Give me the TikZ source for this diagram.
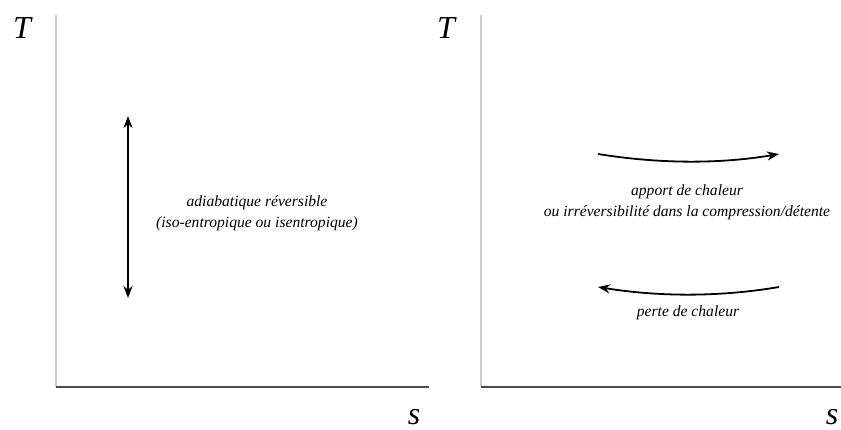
\documentclass[tikz,border=0pt]{standalone}
\usepackage{fontspec}
\setmainfont{Liberation Serif}
\usetikzlibrary{arrows.meta}

\begin{document}
\begin{tikzpicture}[x=0.5pt, y=-0.5pt]
\useasboundingbox (0,0) rectangle (841,429);
% left diagram
\draw[gray!40, line width=0.6pt] (56,15) -- (56,387);
\draw[black!70, line width=0.6pt] (56,387) -- (429,387);
\node[font=\itshape\fontsize{16}{16}\selectfont] (tl) at (22,28) {T};
\node[font=\itshape\fontsize{16}{16}\selectfont] (sl) at (414,417) {s};
\coordinate (adtop) at (128,116); \coordinate (adbot) at (128,298);
\draw[{Stealth[length=6pt,width=4.5pt]}-{Stealth[length=6pt,width=4.5pt]}, line width=0.9pt] (adtop) -- (adbot);
\node[font=\itshape\fontsize{7.8}{10.5}\selectfont, align=center] (adia) at (257,213) {adiabatique réversible\\(iso-entropique ou isentropique)};
% right diagram
\draw[gray!40, line width=0.6pt] (481,15) -- (481,387);
\draw[black!70, line width=0.6pt] (481,387) -- (841,387);
\node[font=\itshape\fontsize{16}{16}\selectfont] (tr) at (446,28) {T};
\node[font=\itshape\fontsize{16}{16}\selectfont] (sr) at (832,417) {s};
\coordinate (apA) at (598,154); \coordinate (apB) at (779,154);
\draw[-{Stealth[length=6pt,width=4.5pt]}, line width=0.9pt] (apA) .. controls (660,164) and (720,164) .. (apB);
\node[font=\itshape\fontsize{7.8}{10.5}\selectfont, align=center] (apport) at (687,202) {apport de chaleur\\ou irréversibilité dans la compression/détente};
\coordinate (peA) at (779,287); \coordinate (peB) at (598,287);
\draw[-{Stealth[length=6pt,width=4.5pt]}, line width=0.9pt] (peA) .. controls (720,297) and (660,297) .. (peB);
\node[font=\itshape\fontsize{7.8}{10.5}\selectfont] (perte) at (688,313) {perte de chaleur};
\end{tikzpicture}
\end{document}
